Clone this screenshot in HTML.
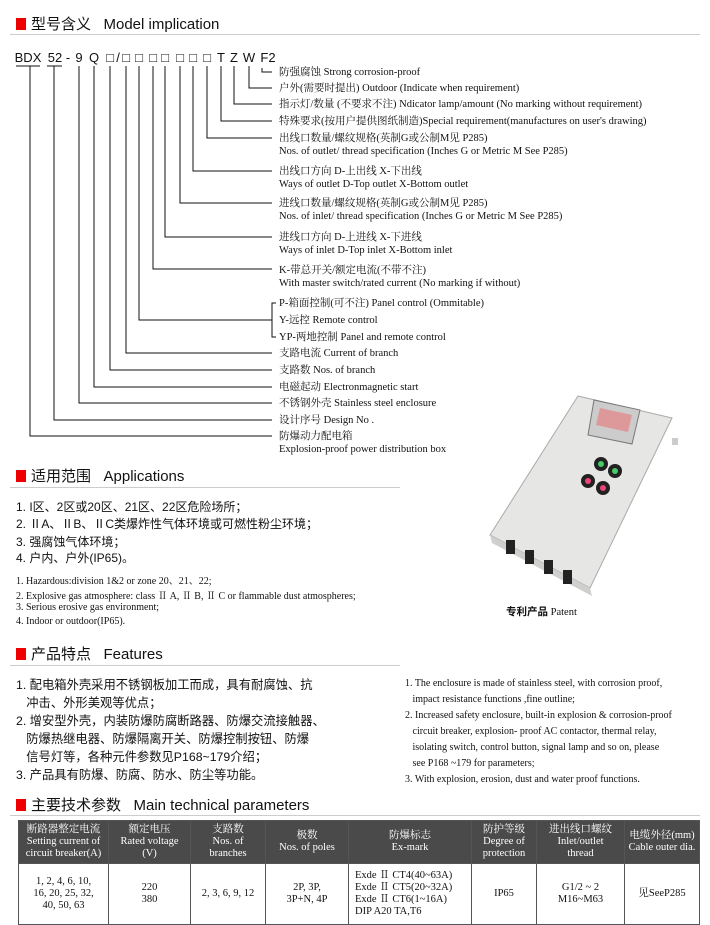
<!DOCTYPE html>
<html><head><meta charset="utf-8"><style>
body{margin:0;width:710px;height:918px;background:#fff;position:relative;overflow:hidden;font-family:"Liberation Serif","Noto Serif CJK SC",serif;color:#111}
.a{position:absolute;white-space:nowrap}
.h{font-family:"Liberation Sans","Noto Sans CJK SC",sans-serif;font-size:15px;color:#111}
.h:before{content:"";display:inline-block;width:10px;height:12px;background:#e00;margin-right:5px;vertical-align:-1px}
.hl{position:absolute;left:10px;width:690px;height:1px;background:#ccc}
.s{font-size:10.5px;line-height:13px}
.c{font-family:"Liberation Sans","Noto Sans CJK SC",sans-serif;font-size:12px}
.e{font-size:10px}
.k{position:absolute;top:50px;font-family:"Liberation Sans","DejaVu Sans",sans-serif;font-size:13px;transform:translateX(-50%)}
table{position:absolute;left:18px;top:820px;border-collapse:collapse;width:682px}
td{border:1px solid #555;text-align:center;font-size:10.5px;line-height:12px;padding:0}
tr.hd td{background:#4a4a4a;color:#fff;height:42px}
tr.bd td{height:60px;vertical-align:middle}
</style></head><body>
<div class="a h" style="left:16px;top:13px">型号含义&nbsp;&nbsp;&nbsp;Model implication</div>
<div class="hl" style="top:34px"></div>
<span class="k" style="left:28px">BDX</span><span class="k" style="left:55px">52</span><span class="k" style="left:68px">-</span><span class="k" style="left:79px">9</span><span class="k" style="left:94px">Q</span><span class="k" style="left:110px">□</span><span class="k" style="left:118px">/</span><span class="k" style="left:126px">□</span><span class="k" style="left:139px">□</span><span class="k" style="left:153px">□</span><span class="k" style="left:165px">□</span><span class="k" style="left:180px">□</span><span class="k" style="left:193px">□</span><span class="k" style="left:207px">□</span><span class="k" style="left:221px">T</span><span class="k" style="left:234px">Z</span><span class="k" style="left:249px">W</span><span class="k" style="left:268px">F2</span>
<svg class="a" style="left:0;top:0" width="710" height="470">
<g stroke="#111" stroke-width="1" fill="none">
<path d="M16 66H40M47 66H62"/>
<path d="M30 66V436H272M54 66V420H272M79 66V403H272M94 66V387H272M110 66V370H272M126 66V353H272M139 66V320H272M153 66V269H272M165 66V237H272M180 66V203H272M193 66V171H272M207 66V138H272M221 66V121H272M234 66V104H272M249 66V88H272M262 68V72H272"/>
<path d="M276 303H272V337H276"/>
</g></svg>
<div class="a s" style="left:279px;top:66px">防强腐蚀 Strong corrosion-proof</div>
<div class="a s" style="left:279px;top:82px">户外(需要时提出) Outdoor (Indicate when requirement)</div>
<div class="a s" style="left:279px;top:98px">指示灯/数量 (不要求不注) Ndicator lamp/amount (No marking without requirement)</div>
<div class="a s" style="left:279px;top:115px">特殊要求(按用户提供图纸制造)Special requirement(manufactures on user's drawing)</div>
<div class="a s" style="left:279px;top:132px">出线口数量/螺纹规格(英制G或公制M见 P285)<br>Nos. of outlet/ thread specification (Inches G or Metric M See P285)</div>
<div class="a s" style="left:279px;top:165px">出线口方向 D-上出线 X-下出线<br>Ways of outlet D-Top outlet X-Bottom outlet</div>
<div class="a s" style="left:279px;top:197px">进线口数量/螺纹规格(英制G或公制M见 P285)<br>Nos. of inlet/ thread specification (Inches G or Metric M See P285)</div>
<div class="a s" style="left:279px;top:231px">进线口方向 D-上进线 X-下进线<br>Ways of inlet D-Top inlet X-Bottom inlet</div>
<div class="a s" style="left:279px;top:264px">K-带总开关/额定电流(不带不注)<br>With master switch/rated current (No marking if without)</div>
<div class="a s" style="left:279px;top:297px">P-箱面控制(可不注) Panel control (Ommitable)</div>
<div class="a s" style="left:279px;top:314px">Y-远控 Remote control</div>
<div class="a s" style="left:279px;top:331px">YP-两地控制 Panel and remote control</div>
<div class="a s" style="left:279px;top:347px">支路电流 Current of branch</div>
<div class="a s" style="left:279px;top:364px">支路数 Nos. of branch</div>
<div class="a s" style="left:279px;top:381px">电磁起动 Electronmagnetic start</div>
<div class="a s" style="left:279px;top:397px">不锈钢外壳 Stainless steel enclosure</div>
<div class="a s" style="left:279px;top:414px">设计序号 Design No .</div>
<div class="a s" style="left:279px;top:430px">防爆动力配电箱<br>Explosion-proof power distribution box</div>

<div class="a h" style="left:16px;top:465px">适用范围&nbsp;&nbsp;&nbsp;Applications</div>
<div class="hl" style="top:487px;width:390px"></div>
<div class="a c" style="left:16px;top:498px">1. I区、2区或20区、21区、22区危险场所；</div>
<div class="a c" style="left:16px;top:515px">2. ⅡA、ⅡB、ⅡC类爆炸性气体环境或可燃性粉尘环境；</div>
<div class="a c" style="left:16px;top:533px">3. 强腐蚀气体环境；</div>
<div class="a c" style="left:16px;top:549px">4. 户内、户外(IP65)。</div>
<div class="a e" style="left:16px;top:572px">1. Hazardous:division 1&amp;2 or zone 20、21、22;</div>
<div class="a e" style="left:16px;top:587px">2. Explosive gas atmosphere: class Ⅱ A, Ⅱ B, Ⅱ C or flammable dust atmospheres;</div>
<div class="a e" style="left:16px;top:602px">3. Serious erosive gas environment;</div>
<div class="a e" style="left:16px;top:616px">4. Indoor or outdoor(IP65).</div>
<svg class="a" style="left:480px;top:380px" width="220" height="220">
<polygon points="98,16 192,38 110,208 10,155" fill="#e6e6e4" stroke="#aaa"/>
<polygon points="10,155 110,208 112,216 12,163" fill="#cfcfcd"/>
<rect x="192" y="58" width="6" height="7" fill="#ccc"/>
<polygon points="114,20 160,30 152,64 108,55" fill="#ccc" stroke="#777"/>
<polygon points="120,28 152,35 148,52 116,45" fill="#d99"/>
<circle cx="121" cy="84" r="7" fill="#222"/><circle cx="121" cy="84" r="3" fill="#4c6"/>
<circle cx="135" cy="91" r="7" fill="#222"/><circle cx="135" cy="91" r="3" fill="#4c6"/>
<circle cx="108" cy="101" r="7" fill="#222"/><circle cx="108" cy="101" r="3" fill="#e47"/>
<circle cx="123" cy="108" r="7" fill="#222"/><circle cx="123" cy="108" r="3" fill="#e47"/>
<rect x="26" y="160" width="9" height="14" fill="#222"/><rect x="45" y="170" width="9" height="14" fill="#222"/><rect x="64" y="180" width="9" height="14" fill="#222"/><rect x="83" y="190" width="9" height="14" fill="#222"/>
</svg>
<div class="a" style="left:506px;top:604px;font-size:10.5px"><b style="font-family:'Noto Sans CJK SC',sans-serif">专利产品</b> Patent</div>

<div class="a h" style="left:16px;top:643px">产品特点&nbsp;&nbsp;&nbsp;Features</div>
<div class="hl" style="top:665px;width:390px"></div>
<div class="a c" style="left:16px;top:676px;line-height:18px;font-size:12.3px">1. 配电箱外壳采用不锈钢板加工而成，具有耐腐蚀、抗<br>&nbsp;&nbsp;&nbsp;冲击、外形美观等优点；<br>2. 增安型外壳，内装防爆防腐断路器、防爆交流接触器、<br>&nbsp;&nbsp;&nbsp;防爆热继电器、防爆隔离开关、防爆控制按钮、防爆<br>&nbsp;&nbsp;&nbsp;信号灯等，各种元件参数见P168~179介绍；<br>3. 产品具有防爆、防腐、防水、防尘等功能。</div>
<div class="a e" style="left:405px;top:676px;line-height:16px">1. The enclosure is made of stainless steel, with corrosion proof,<br>&nbsp;&nbsp;&nbsp;impact resistance functions ,fine outline;<br>2. Increased safety enclosure, built-in explosion &amp; corrosion-proof<br>&nbsp;&nbsp;&nbsp;circuit breaker, explosion- proof AC contactor, thermal relay,<br>&nbsp;&nbsp;&nbsp;isolating switch, control button, signal lamp and so on, please<br>&nbsp;&nbsp;&nbsp;see P168 ~179 for parameters;<br>3. With explosion, erosion, dust and water proof functions.</div>

<div class="a h" style="left:16px;top:794px">主要技术参数&nbsp;&nbsp;&nbsp;Main technical parameters</div>
<div class="hl" style="top:815px"></div>
<table>
<tr class="hd"><td style="width:89px">断路器整定电流<br>Setting current of<br>circuit breaker(A)</td><td style="width:81px">额定电压<br>Rated voltage<br>(V)</td><td style="width:74px">支路数<br>Nos. of<br>branches</td><td style="width:82px">极数<br>Nos. of poles</td><td style="width:122px">防爆标志<br>Ex-mark</td><td style="width:64px">防护等级<br>Degree of<br>protection</td><td style="width:87px">进出线口螺纹<br>Inlet/outlet<br>thread</td><td>电缆外径(mm)<br>Cable outer dia.</td></tr>
<tr class="bd"><td>1, 2, 4, 6, 10,<br>16, 20, 25, 32,<br>40, 50, 63</td><td>220<br>380</td><td>2, 3, 6, 9, 12</td><td>2P, 3P,<br>3P+N, 4P</td><td style="text-align:left;padding-left:6px">Exde Ⅱ CT4(40~63A)<br>Exde Ⅱ CT5(20~32A)<br>Exde Ⅱ CT6(1~16A)<br>DIP A20 TA,T6</td><td>IP65</td><td>G1/2 ~ 2<br>M16~M63</td><td>见SeeP285</td></tr>
</table>
</body></html>
